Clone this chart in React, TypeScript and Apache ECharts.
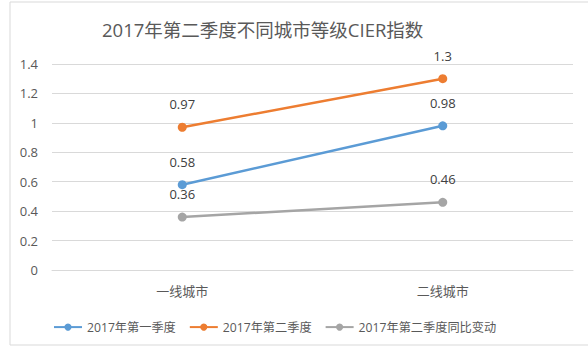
import React, { useEffect, useRef } from "react";
import * as echarts from "echarts";

const title = "2017年第二季度不同城市等级CIER指数";
const categories = ["一线城市", "二线城市"];
const seriesNames = ["2017年第一季度", "2017年第二季度", "2017年第二季度同比变动"];
const q1 = [0.58, 0.98];
const q2 = [0.97, 1.3];
const yoy = [0.36, 0.46];
const colors = ["#5B9BD5", "#ED7D31", "#A5A5A5"];

const FONT = "'Open Sans', 'Noto Sans CJK SC', sans-serif";

export default function App() {
  const ref = useRef<HTMLDivElement>(null);
  useEffect(() => {
    if (!ref.current) return;
    const chart = echarts.init(ref.current, undefined, { renderer: "svg" });
    const values = [q1, q2, yoy];
    chart.setOption({
      animation: false,
      backgroundColor: "#ffffff",
      textStyle: { fontFamily: FONT },
      title: {
        text: title,
        left: 97,
        top: 15,
        textStyle: { fontSize: 18.5, fontWeight: "normal", color: "#595959", fontFamily: FONT },
      },
      graphic: [
        {
          type: "rect",
          shape: { x: 10, y: 2, width: 600, height: 343 },
          style: { fill: "none", stroke: "#d9d9d9", lineWidth: 1 },
          silent: true,
        },
      ],
      legend: {
        left: 48,
        top: 316,
        itemWidth: 28,
        itemHeight: 9,
        itemGap: 13,
        textStyle: { fontSize: 12.2, color: "#595959", fontFamily: FONT },
        data: seriesNames,
      },
      grid: { left: 52, right: 15, top: 64, bottom: 79, containLabel: false },
      xAxis: {
        type: "category",
        data: categories,
        boundaryGap: true,
        axisLine: { lineStyle: { color: "#d9d9d9" } },
        axisTick: { show: false },
        axisLabel: { fontSize: 13, color: "#595959", margin: 14, fontFamily: FONT },
      },
      yAxis: {
        type: "value",
        min: 0,
        max: 1.4,
        interval: 0.2,
        axisLine: { show: false },
        axisTick: { show: false },
        splitLine: { lineStyle: { color: "#d9d9d9" } },
        axisLabel: {
          fontSize: 13,
          color: "#595959",
          margin: 14,
          fontFamily: FONT,
          formatter: (v: number) => String(Math.round(v * 10) / 10),
        },
      },
      series: seriesNames.map((name, i) => ({
        name,
        type: "line",
        data: values[i],
        symbol: "circle",
        symbolSize: 9,
        color: colors[i],
        lineStyle: { width: 2.5, color: colors[i] },
        itemStyle: { color: colors[i] },
        label: {
          show: true,
          position: "top",
          distance: 12,
          fontSize: 13,
          color: "#404040",
          fontFamily: FONT,
        },
      })),
    });
    return () => chart.dispose();
  }, []);
  return (
    <div
      ref={ref}
      style={{ position: "fixed", left: 0, top: 0, width: 588, height: 349 }}
    />
  );
}
